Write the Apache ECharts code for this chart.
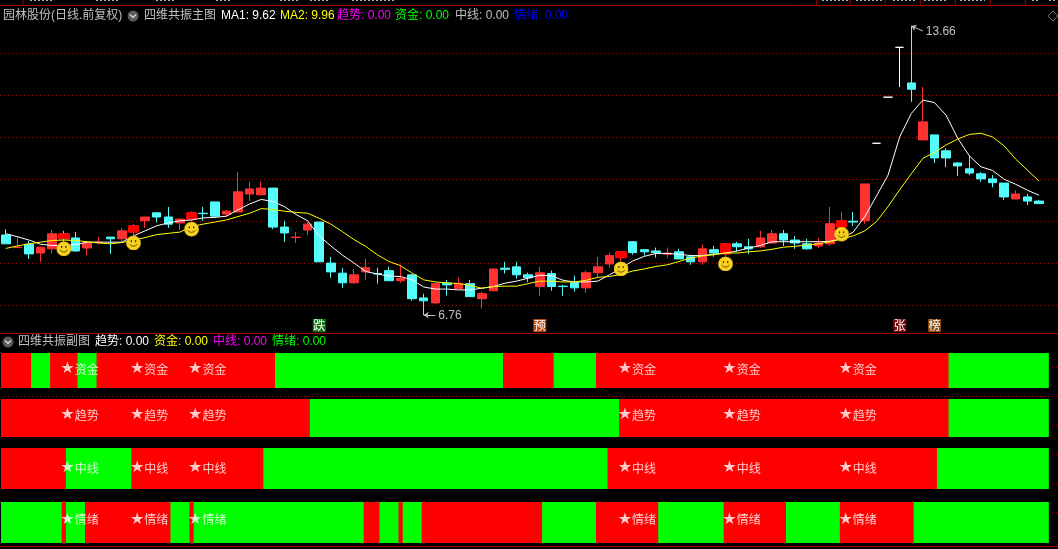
<!DOCTYPE html>
<html>
<head>
<meta charset="utf-8">
<style>html,body{margin:0;padding:0;background:#000}#c{width:1058px;height:549px}</style>
<script src="https://cdn.jsdelivr.net/npm/echarts@6/dist/echarts.min.js"></script>
</head>
<body>
<div id="c"></div>
<script>
// ---------- values ----------
const opens = [8.67,8.37,8.45,8.24,8.34,8.70,8.60,8.36,8.49,8.62,
 8.58,8.74,9.01,9.20,9.10,8.96,9.05,9.19,9.46,9.17,
 9.22,9.65,9.63,9.79,8.86,8.61,8.79,8.98,8.00,7.76,
 7.53,7.79,7.75,7.82,7.58,7.72,7.17,7.05,7.52,7.39,
 7.51,7.15,7.34,7.88,7.91,7.72,7.44,7.75,7.45,7.53,
 7.41,7.77,7.98,8.13,8.51,8.32,8.29,8.21,8.27,8.15,
 8.03,8.32,8.22,8.46,8.39,8.39,8.48,8.70,8.55,8.46,
 8.41,8.46,8.86,9.00,9.01,10.86,11.96,13.15,12.30,10.94,
 11.06,10.68,10.39,10.25,10.13,10.01,9.91,9.53,9.58,9.48];
const closes = [8.46,8.38,8.22,8.38,8.70,8.58,8.29,8.48,8.50,8.58,
 8.77,8.89,9.10,9.10,8.93,9.05,9.20,9.18,9.12,9.24,
 9.70,9.77,9.79,8.86,8.72,8.62,8.93,8.03,7.79,7.53,
 7.72,7.89,7.74,7.58,7.63,7.15,7.10,7.51,7.48,7.52,
 7.20,7.27,7.86,7.85,7.72,7.65,7.77,7.44,7.44,7.41,
 7.77,7.91,8.18,8.27,8.25,8.27,8.25,8.24,8.10,8.03,
 8.34,8.24,8.46,8.39,8.34,8.60,8.70,8.55,8.48,8.34,
 8.48,8.94,9.01,8.98,9.89,10.86,11.96,13.15,12.15,11.37,
 10.51,10.51,10.32,10.15,10.01,9.92,9.58,9.65,9.48,9.42];
const highs = [8.81,8.63,8.53,8.38,8.79,8.77,8.74,8.53,8.62,8.62,
 8.84,8.93,9.10,9.20,9.34,9.06,9.24,9.34,9.46,9.27,
 10.17,9.94,9.94,9.79,9.01,8.74,8.98,8.98,8.15,7.88,
 7.86,8.10,7.89,7.91,7.96,7.72,7.27,7.52,7.60,7.65,
 7.60,7.32,7.86,8.03,8.03,7.77,7.91,7.82,7.48,7.70,
 7.82,8.15,8.25,8.29,8.51,8.32,8.37,8.37,8.34,8.20,
 8.44,8.41,8.48,8.51,8.58,8.77,8.79,8.79,8.65,8.58,
 8.60,9.34,9.22,9.22,9.89,10.86,11.96,13.15,13.66,12.20,
 11.06,10.74,10.41,10.56,10.17,10.10,9.91,9.74,9.65,9.51];
const lows = [8.46,8.37,8.10,8.03,8.23,8.51,8.27,8.19,8.46,8.22,
 8.51,8.67,8.84,8.97,8.84,8.79,8.99,9.01,9.08,9.10,
 9.22,9.48,9.63,8.81,8.50,8.48,8.67,8.03,7.65,7.41,
 7.51,7.60,7.51,7.58,7.53,7.10,6.76,7.03,7.22,7.39,
 7.20,6.91,7.33,7.75,7.63,7.55,7.22,7.34,7.22,7.32,
 7.29,7.67,7.89,8.04,8.20,8.18,8.13,8.13,8.10,7.96,
 7.96,8.15,8.14,8.27,8.22,8.36,8.46,8.41,8.34,8.32,
 8.36,8.41,8.79,8.89,8.94,10.86,11.96,12.20,11.85,10.94,
 10.39,10.29,10.08,10.10,9.94,9.81,9.51,9.53,9.38,9.42];
const ma1 = [8.70,8.63,8.55,8.45,8.42,8.42,8.44,8.50,8.50,8.50,
 8.50,8.65,8.77,8.89,8.96,9.01,9.03,9.08,9.09,9.12,
 9.27,9.41,9.52,9.47,9.35,9.16,9.01,8.65,8.41,8.19,
 8.00,7.80,7.74,7.69,7.68,7.60,7.43,7.38,7.38,7.36,
 7.36,7.40,7.44,7.52,7.57,7.64,7.71,7.70,7.59,7.55,
 7.55,7.57,7.72,7.88,8.05,8.16,8.23,8.23,8.21,8.18,
 8.18,8.21,8.24,8.29,8.36,8.42,8.51,8.51,8.51,8.51,
 8.51,8.52,8.59,8.74,9.11,9.60,10.10,11.01,11.57,11.89,
 11.83,11.53,10.98,10.56,10.30,10.21,10.00,9.88,9.74,9.62];
const ma2 = [8.35,8.41,8.46,8.50,8.54,8.55,8.54,8.51,8.48,8.46,
 8.49,8.55,8.61,8.68,8.71,8.74,8.87,8.93,8.98,9.03,
 9.11,9.19,9.30,9.28,9.24,9.21,9.19,9.07,8.93,8.75,
 8.56,8.40,8.20,8.04,7.94,7.76,7.60,7.55,7.53,7.51,
 7.47,7.40,7.44,7.45,7.45,7.51,7.57,7.57,7.55,7.55,
 7.59,7.66,7.68,7.73,7.81,7.86,7.92,7.96,8.04,8.12,
 8.17,8.20,8.24,8.24,8.27,8.29,8.33,8.38,8.40,8.43,
 8.46,8.51,8.57,8.65,8.77,8.99,9.35,9.75,10.13,10.50,
 10.64,10.82,10.96,11.07,11.10,11.01,10.80,10.48,10.22,9.96];
const limitDays = [75,76,77];
const signalDays = [5,11,16,53,62,72];
const smilePrices = [8.34,8.48,8.81,7.86,7.98,8.69];
const highMark = {day:78, price:13.66};
const lowMark = {day:36, price:6.76};
const flagDays = [27,46,77,80];
const flagTexts = ['跌','预','张','榜'];
const flagColors = ['#0f7a10','#b84a10','#7a0a0a','#8a4a10'];

// 1 = red, 0 = green
const ziJin = [1,1,1,0,1,1,1,0,1,1, 1,1,1,1,1,1,1,1,1,1, 1,1,1,1,0,0,0,0,0,0, 0,0,0,0,0,0,0,0,0,0,
 0,0,0,1,1,1,1,1,0,0, 0,1,1,1,1,1,1,1,1,1, 1,1,1,1,1,1,1,1,1,1, 1,1,1,1,1,1,1,1,1,1, 1,1,0,0,0,0,0,0,0,0];
const quShi = [1,1,1,1,1,1,1,1,1,1, 1,1,1,1,1,1,1,1,1,1, 1,1,1,1,1,1,1,0,0,0, 0,0,0,0,0,0,0,0,0,0,
 0,0,0,0,0,0,0,0,0,0, 0,0,0,1,1,1,1,1,1,1, 1,1,1,1,1,1,1,1,1,1, 1,1,1,1,1,1,1,1,1,1, 1,1,0,0,0,0,0,0,0,0];
const zhongXian = [1,1,1,1,1,1,0,0,0,0, 0,1,1,1,1,1,1,1,1,1, 1,1,1,0,0,0,0,0,0,0, 0,0,0,0,0,0,0,0,0,0,
 0,0,0,0,0,0,0,0,0,0, 0,0,1,1,1,1,1,1,1,1, 1,1,1,1,1,1,1,1,1,1, 1,1,1,1,1,1,1,1,1,1, 1,0,0,0,0,0,0,0,0,0];
const qingXu = [0,0,0,0,0,1,0,1,1,1, 1,1,1,1,1,0,1,0,0,0, 0,0,0,0,0,0,0,0,0,0, 0,1,1,0,1,0,1,1,1,1,
 1,1,1,1,1,1,1,0,0,0, 0,1,1,1,1,1,1,0,0,0, 0,0,1,1,1,1,1,1,0,0, 0,0,1,1,1,1,1,1,1,0, 0,0,0,0,0,0,0,0,0,0];
const rowFlags = [ziJin, quShi, zhongXian, qingXu];
const rowNames = ['资金','趋势','中线','情绪'];

const mainLegend = [['园林股份(日线.前复权)','#c0c0c0'],['四维共振主图','#c0c0c0'],['MA1: 9.62','#ffffff'],['MA2: 9.96','#ffff00'],
 ['趋势: 0.00','#ff00ff'],['资金: 0.00','#00ff00'],['中线: 0.00','#c0c0c0'],['情绪: 0.00','#0000ff']];
const subLegend = [['四维共振副图','#c0c0c0'],['趋势: 0.00','#ffffff'],['资金: 0.00','#ffff00'],['中线: 0.00','#ff00ff'],['情绪: 0.00','#00ff00']];

// ---------- layout and style ----------
const FONT = '"Liberation Sans","Noto Sans CJK SC",sans-serif';
const CJK = '"Noto Sans CJK SC",sans-serif';
const RED_LINE = '#a00000';
const mainLegendX = [3,144,221,280,337,395,455,514];
const subLegendX = [18,95,154,213,272];
const rowBoxes = [[353,35],[399,38],[448,41],[502,41]];
const labelLevels = [0.54,0.58,0.51,0.57];
const stubs = [[30,52],[96,118],[156,176],[216,232],[280,300],[310,330],[352,396],[822,849],[856,882],[893,917],[924,948],[960,985],[1032,1040],[1049,1056]];
const dividers = [23,816.7,850.3,885.3,920.3,955.3,990.3,1025.3];

const categories = opens.map((_, i) => 'D' + (i + 1)).concat(['']);

const smileSvg = '<svg xmlns="http://www.w3.org/2000/svg" width="30" height="30" viewBox="0 0 30 30">' +
 '<circle cx="15" cy="15" r="14.5" fill="#f7d21e" stroke="#c49a10" stroke-width="1"/>' +
 '<rect x="9.5" y="9" width="2.5" height="4.5" rx="1.2" fill="#4a3500"/><rect x="18" y="9" width="2.5" height="4.5" rx="1.2" fill="#4a3500"/>' +
 '<path d="M7.5 17.5 Q15 25.5 22.5 17.5" fill="none" stroke="#4a3500" stroke-width="1.6"/></svg>';
const smileSymbol = 'image://data:image/svg+xml;charset=utf-8,' + encodeURIComponent(smileSvg);

const dotted = {show:true, showMinLine:false, showMaxLine:false, lineStyle:{color:RED_LINE, type:[1,3], width:1}};
const hiddenParts = {axisLine:{show:false}, axisTick:{show:false}, axisLabel:{show:false}};
const grids = [{left:-0.5, top:11.7, width:91*11.614, height:335.2, containLabel:false},
               {left:0, top:338.3, width:1058, height:203, containLabel:false},
               {left:0, top:11.7, width:1058, height:335.2, containLabel:false}];
const xAxes = [{type:'category', gridIndex:0, data:categories, show:false, boundaryGap:true},
               {type:'value', gridIndex:1, min:0, max:1, show:false},
               {type:'value', gridIndex:2, min:0, max:1, show:false}];
const yAxes = [{type:'value', gridIndex:0, min:6, max:14, show:false},
               {type:'value', gridIndex:1, min:0, max:7, interval:1, ...hiddenParts, splitLine:dotted},
               {type:'value', gridIndex:2, min:6, max:14, interval:1, ...hiddenParts, splitLine:dotted}];

const series = [];
series.push({type:'candlestick', xAxisIndex:0, yAxisIndex:0, z:2, barWidth:9, animation:false,
  itemStyle:{color:'#ff3232', color0:'#54fcfc', borderColor:'#ff3232', borderColor0:'#54fcfc', borderWidth:1},
  data: opens.map((o, i) => {
    const d = {value:[o, closes[i], lows[i], highs[i]]};
    if (limitDays.includes(i)) d.itemStyle = {color:'#fff', color0:'#fff', borderColor:'#fff', borderColor0:'#fff'};
    return d;
  }),
  markLine:{silent:true, animation:false, symbol:['none','arrow'], symbolSize:5,
    label:{show:false}, lineStyle:{color:'#c0c0c0', type:'solid', width:1},
    data:[[{coord:[highMark.day + 0.95, highMark.price - 0.12]},{coord:[highMark.day, highMark.price]}],
          [{coord:[lowMark.day + 1, lowMark.price]},{coord:[lowMark.day, lowMark.price]}]]},
  markPoint:{silent:true, animation:false, symbol:'circle', symbolSize:1, itemStyle:{color:'rgba(0,0,0,0)'},
    label:{show:true, color:'#c0c0c0', fontFamily:FONT, fontSize:12, position:'right', distance:14},
    data:[{coord:[highMark.day, highMark.price], value:highMark.price, label:{formatter:'13.66', offset:[0,6]}},
          {coord:[lowMark.day, lowMark.price], value:lowMark.price, label:{formatter:'6.76', offset:[0,1]}}]}
});
series.push({type:'candlestick', xAxisIndex:0, yAxisIndex:0, z:3, barWidth:11, animation:false,
  itemStyle:{color:'#ff0000', color0:'#ff0000', borderColor:'#ff0000', borderColor0:'#ff0000', borderWidth:1},
  data: opens.map((o, i) => signalDays.includes(i)
    ? [o, closes[i], Math.min(o, closes[i]), Math.max(o, closes[i])] : ['-','-','-','-'])
});
series.push({type:'line', xAxisIndex:0, yAxisIndex:0, z:4, data:ma1, symbol:'none', animation:false, lineStyle:{color:'#ffffff', width:1}});
series.push({type:'line', xAxisIndex:0, yAxisIndex:0, z:4, data:ma2, symbol:'none', animation:false, lineStyle:{color:'#ffff00', width:1}});
series.push({type:'scatter', xAxisIndex:0, yAxisIndex:0, z:5, symbol:smileSymbol, symbolSize:15, animation:false,
  itemStyle:{opacity:1}, data: signalDays.map((d, i) => [d, smilePrices[i]])});
series.push({type:'scatter', xAxisIndex:0, yAxisIndex:0, z:5, symbol:'rect', symbolSize:13, animation:false,
  data: flagDays.map((d, i) => ({value:[d, 6.51], itemStyle:{color:flagColors[i], opacity:1},
    label:{show:true, position:'inside', formatter:flagTexts[i], color:'#fff', fontSize:12, fontFamily:CJK, textBorderWidth:0}}))});

rowFlags.forEach((flags, r) => {
  const g = grids.length;
  const [top, height] = rowBoxes[r];
  grids.push({left:1, top, width:1048, height, containLabel:false});
  xAxes.push({type:'value', gridIndex:g, min:-0.41, max:89.83, show:false});
  yAxes.push({type:'value', gridIndex:g, min:0, max:1, show:false});
  series.push({type:'bar', xAxisIndex:g, yAxisIndex:g, barWidth:19, barGap:'-100%', animation:false, z:2,
    itemStyle:{color:'#ff0000'}, data:flags.map((f, i) => f ? [i, 1] : [i, null])});
  series.push({type:'bar', xAxisIndex:g, yAxisIndex:g, barWidth:19, barGap:'-100%', animation:false, z:3,
    itemStyle:{color:'#00ff00'}, data:flags.map((f, i) => f ? [i, null] : [i, 1])});
  series.push({type:'scatter', xAxisIndex:g, yAxisIndex:g, z:4, symbolSize:1, animation:false, itemStyle:{color:'rgba(0,0,0,0)'},
    label:{show:true, position:'right', distance:-4, textBorderWidth:0,
      formatter:'{s|★}{t|' + rowNames[r] + '}',
      rich:{s:{fontFamily:'"DejaVu Sans"', fontSize:16, color:'#fff', textBorderWidth:0},
            t:{fontFamily:CJK, fontSize:12, color:'#fff', textBorderWidth:0}}},
    data:signalDays.map(d => [d, labelLevels[r]])});
});

function legendTexts(list, xs, y) {
  return list.map((t, i) => ({type:'text', x:xs[i], y, z:20, silent:true,
    style:{text:t[0], fill:t[1], font:'12px ' + FONT, verticalAlign:'middle'}}));
}
function circleIcon(cx, cy) {
  return [{type:'circle', shape:{cx, cy, r:5.5}, z:20, silent:true, style:{fill:'#5a5a5a'}},
          {type:'polyline', shape:{points:[[cx-3,cy-1.5],[cx,cy+1.5],[cx+3,cy-1.5]]}, z:21, silent:true, style:{stroke:'#d8d8d8', lineWidth:1.4, fill:'none'}}];
}
function hLine(y) {
  return {type:'line', shape:{x1:0, y1:y, x2:1058, y2:y}, z:20, silent:true, style:{stroke:RED_LINE, lineWidth:1}};
}
const graphics = [
  hLine(5.5), hLine(333.5), hLine(546.5),
  {type:'rect', shape:{x:0, y:350, width:1, height:195}, z:20, silent:true, style:{fill:'#000'}},
  ...dividers.map(x => ({type:'line', shape:{x1:x, y1:0, x2:x, y2:5}, z:20, silent:true, style:{stroke:RED_LINE, lineWidth:1}})),
  ...stubs.map(s => ({type:'line', shape:{x1:s[0], y1:0.5, x2:s[1], y2:0.5}, z:20, silent:true, style:{stroke:'#b0b0b0', lineWidth:1, lineDash:[2,2]}})),
  ...legendTexts(mainLegend, mainLegendX, 16),
  ...legendTexts(subLegend, subLegendX, 342),
  ...circleIcon(133, 16),
  ...circleIcon(8, 342),
  {type:'polygon', shape:{points:[[1053,11],[1058,16],[1053,21],[1048,16]]}, z:20, silent:true, style:{fill:'none', stroke:'#777', lineWidth:1}}
];

const chart = echarts.init(document.getElementById('c'), null, {renderer:'canvas', width:1058, height:549});
chart.setOption({backgroundColor:'#000', animation:false, grid:grids, xAxis:xAxes, yAxis:yAxes, series, graphic:{elements:graphics}, tooltip:{show:false}});
</script>
</body>
</html>
